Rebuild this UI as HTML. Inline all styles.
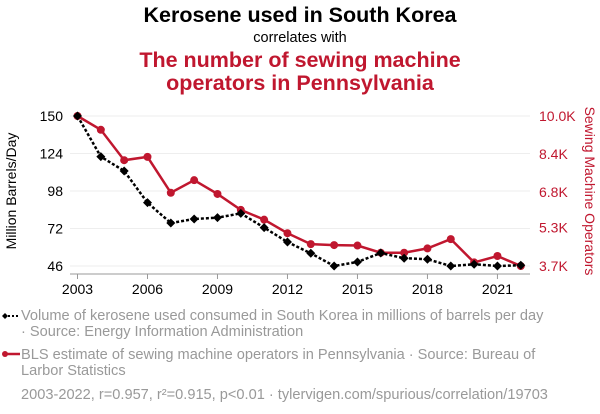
<!DOCTYPE html>
<html><head><meta charset="utf-8"><style>
body{margin:0;background:#fff;width:600px;height:414px;overflow:hidden;font-family:"Liberation Sans",sans-serif}
svg{display:block}
</style></head><body>
<svg id="chart" width="600" height="414">
<text x="300" y="22" text-anchor="middle" font-size="21.5" font-weight="bold" fill="#000">Kerosene used in South Korea</text>
<text x="300" y="42" text-anchor="middle" font-size="14.5" fill="#000">correlates with</text>
<text x="300" y="67" text-anchor="middle" font-size="21.5" font-weight="bold" fill="#c0172f">The number of sewing machine</text>
<text x="300" y="90" text-anchor="middle" font-size="21.5" font-weight="bold" fill="#c0172f">operators in Pennsylvania</text>
<g id="grid"></g><g id="axes"></g><g id="series"></g>
<text transform="translate(16,191) rotate(-90)" text-anchor="middle" font-size="14" fill="#000">Million Barrels/Day</text>
<text transform="translate(585,191) rotate(90)" text-anchor="middle" font-size="14" fill="#c0172f">Sewing Machine Operators</text>
<g>
<line x1="4" y1="316" x2="20" y2="316" stroke="#000" stroke-width="2" stroke-dasharray="2,2"/>
<path d="M2,316 L5,313 L8,316 L5,319Z" fill="#000"/>
<text x="21" y="320" font-size="14.6" fill="#999">Volume of kerosene used consumed in South Korea in millions of barrels per day</text>
<text x="21" y="336" font-size="14.6" fill="#999">· Source: Energy Information Administration</text>
</g>
<g>
<line x1="4" y1="354" x2="20" y2="354" stroke="#c0172f" stroke-width="2.5"/>
<circle cx="5" cy="354" r="3" fill="#c0172f"/>
<text x="21" y="359" font-size="14.6" fill="#999">BLS estimate of sewing machine operators in Pennsylvania · Source: Bureau of</text>
<text x="21" y="375" font-size="14.6" fill="#999">Larbor Statistics</text>
</g>
<text x="21" y="399" font-size="14.6" fill="#999">2003-2022, r=0.957, r²=0.915, p&lt;0.01 · tylervigen.com/spurious/correlation/19703</text>
</svg>
<script>
const years=[2003,2004,2005,2006,2007,2008,2009,2010,2011,2012,2013,2014,2015,2016,2017,2018,2019,2020,2021,2022];
const kerosene=[150,121.8,111.9,89.9,75.8,78.6,79.5,82.5,72.6,62.6,54.8,46,48.8,55,51.4,50.7,46,47.2,46,46.5];
const sewing=[10000,9420,8140,8280,6770,7300,6720,6050,5640,5070,4610,4570,4550,4250,4250,4430,4820,3840,4110,3690];
const leftTicks=[46,72,98,124,150];
const rightTicks=[3700,5300,6800,8400,10000];
const rightTickLabels=["3.7K","5.3K","6.8K","8.4K","10.0K"];
const xTicks=[2003,2006,2009,2012,2015,2018,2021];
const NS="http://www.w3.org/2000/svg";
const x=v=>77.5+(v-2003)*23.33;
const yL=v=>266-(v-46)/(150-46)*150;
const yR=v=>266-(v-3690)/(10000-3690)*150;
function mk(tag,attrs,parent){const e=document.createElementNS(NS,tag);for(const k in attrs)e.setAttribute(k,attrs[k]);parent.appendChild(e);return e;}
const grid=document.getElementById('grid'),axes=document.getElementById('axes'),ser=document.getElementById('series');
leftTicks.forEach((t,i)=>{
 const g=mk('line',{x1:70,x2:530,y1:yL(t),y2:yL(t),stroke:'#eee','stroke-width':1},grid);
 
 
 const l=mk('text',{x:63,y:yL(t)+5,'text-anchor':'end','font-size':14,fill:'#000'},axes);l.textContent=t;
 
 
});
rightTicks.forEach((t,i)=>{
 const l=mk('text',{x:539,y:yR(t)+5,'font-size':14,fill:'#c0172f'},axes);l.textContent=rightTickLabels[i];
 
 
});
const xa=mk('line',{x1:70,x2:530,y1:274,y2:274,stroke:'#999','stroke-width':1},axes);


xTicks.forEach(t=>{
 mk('line',{x1:x(t),x2:x(t),y1:274,y2:279,stroke:'#999'},axes);
 const l=mk('text',{x:x(t),y:294,'text-anchor':'middle','font-size':14,fill:'#000'},axes);l.textContent=t;
 
 
});
const rl=mk('polyline',{points:years.map((y,i)=>x(y)+','+yR(sewing[i])).join(' '),fill:'none',stroke:'#c0172f','stroke-width':2.5},ser);


years.forEach((y,i)=>{const c=mk('circle',{cx:x(y),cy:yR(sewing[i]),r:4,fill:'#c0172f'},ser);
 
 });
const kl=mk('polyline',{points:years.map((y,i)=>x(y)+','+yL(kerosene[i])).join(' '),fill:'none',stroke:'#000','stroke-width':2.5,'stroke-dasharray':'3,2'},ser);


years.forEach((y,i)=>{const cx=x(y),cy=yL(kerosene[i]);
 const p=mk('path',{d:`M${cx-4.5},${cy}L${cx},${cy-4.5}L${cx+4.5},${cy}L${cx},${cy+4.5}Z`,fill:'#000'},ser);
 
 });
</script>
</body></html>
